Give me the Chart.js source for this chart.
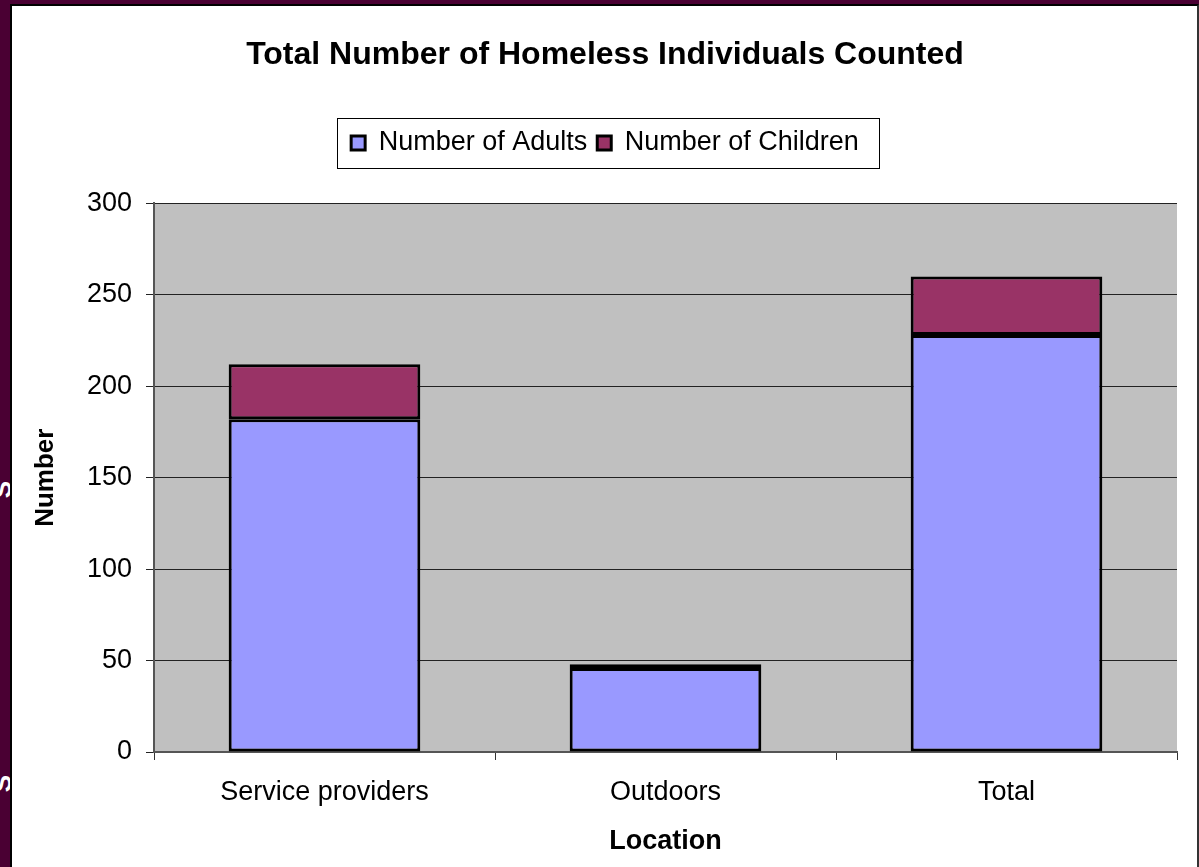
<!DOCTYPE html>
<html>
<head>
<meta charset="utf-8">
<script src="https://cdn.jsdelivr.net/npm/chart.js@4.4.1/dist/chart.umd.min.js"></script>
<style>
  html, body { margin: 0; padding: 0; background: #4a0033; overflow: hidden; }
  #frame {
    position: absolute; left: 10px; top: 4px; width: 1185px; height: 863px;
    background: #fff; border-left: 2px solid #000; border-top: 2px solid #000; border-right: 2px solid #333;
  }
  #wrap { position: absolute; left: 0; top: 0; width: 1185px; height: 861px; }
  .edge { position: absolute; left: -6px; color: #fff; font: bold 26px "Liberation Sans", Arial, sans-serif; transform: rotate(-90deg); }
</style>
</head>
<body>
<div class="edge" style="top:474px;">S</div>
<div class="edge" style="top:768px;">S</div>
<div id="frame"><div id="wrap"><canvas id="homeless"></canvas></div></div>
<script>
const categories = ["Service providers", "Outdoors", "Total"];
const adults = [182, 46, 228];
const children = [30, 2, 32];
const yTicks = [0, 50, 100, 150, 200, 250, 300];

const FONT = "'Liberation Sans', Arial, sans-serif";

// legend box gets a fixed height so the plot starts where the original does
const legendSize = {
  id: "legendSize",
  afterInit(chart) {
    const lg = chart.legend;
    const fit = lg.fit;
    lg.fit = function () {
      fit.call(this);
      this.height = 84;
    };
  }
};

const legendFrame = {
  id: "legendFrame",
  afterDraw(chart) {
    const boxes = chart.legend.legendHitBoxes;
    if (!boxes || !boxes.length) return;
    let l = Infinity, r = -Infinity, t = Infinity, b = -Infinity;
    boxes.forEach(function (h) {
      l = Math.min(l, h.left); r = Math.max(r, h.left + h.width);
      t = Math.min(t, h.top); b = Math.max(b, h.top + h.height);
    });
    const cy = (t + b) / 2;
    const ctx = chart.ctx;
    ctx.save();
    ctx.strokeStyle = "#000";
    ctx.lineWidth = 1;
    ctx.strokeRect(Math.round(l - 14) + 0.5, Math.round(cy - 25) + 0.5, Math.round(r - l + 34), 50);
    ctx.restore();
  }
};

const plotBg = {
  id: "plotBg",
  beforeDraw(chart) {
    const a = chart.chartArea;
    const ctx = chart.ctx;
    ctx.save();
    ctx.fillStyle = "#c0c0c0";
    ctx.fillRect(a.left, a.top, a.right - a.left, a.bottom - a.top);
    ctx.restore();
  }
};

function init() {
  const ctx = document.getElementById("homeless");
  new Chart(ctx, {
    type: "bar",
    data: {
      labels: categories,
      datasets: [
        {
          label: "Number of Adults",
          data: adults,
          backgroundColor: "#9999ff",
          borderColor: "#000",
          borderWidth: 3,
          borderSkipped: false,
          barPercentage: 0.562,
          categoryPercentage: 1,
        },
        {
          label: "Number of Children",
          data: children,
          backgroundColor: "#993366",
          borderColor: "#000",
          borderWidth: 3,
          borderSkipped: false,
          barPercentage: 0.562,
          categoryPercentage: 1,
        },
      ],
    },
    options: {
      responsive: true,
      maintainAspectRatio: false,
      animation: false,
      layout: { padding: { left: 21, right: 20, top: 0, bottom: 0 } },
      plugins: {
        title: {
          display: true,
          text: "Total Number of Homeless Individuals Counted",
          color: "#000",
          font: { family: FONT, size: 32, weight: "bold" },
          padding: { top: 30, bottom: 45 },
        },
        legend: {
          display: true,
          labels: {
            color: "#000",
            font: { family: FONT, size: 27 },
            boxWidth: 14,
            boxHeight: 14,
            padding: 10,
          },
        },
        tooltip: { enabled: false },
      },
      scales: {
        x: {
          stacked: true,
          afterFit: function (axis) { axis.height = 115; },
          grid: { drawOnChartArea: false, drawTicks: true, tickLength: 8, color: "#333", offset: true },
          border: { color: "#555", width: 2 },
          ticks: { color: "#000", font: { family: FONT, size: 27 }, padding: 16 },
          title: {
            display: true, text: "Location", color: "#000",
            font: { family: FONT, size: 27, weight: "bold" },
            padding: { bottom: 9 },
          },
        },
        y: {
          stacked: true,
          min: 0,
          max: 300,
          afterFit: function (axis) { axis.width = 121; },
          afterBuildTicks: function (axis) { axis.ticks = yTicks.map(function (v) { return { value: v }; }); },
          grid: { color: "#222", lineWidth: 1, tickLength: 8 },
          border: { color: "#555", width: 2 },
          ticks: { color: "#000", font: { family: FONT, size: 27 }, padding: 14 },
          title: {
            display: true, text: "Number", color: "#000",
            font: { family: FONT, size: 26, weight: "bold" },
            padding: { top: -3 },
          },
        },
      },
    },
    plugins: [legendSize, plotBg, legendFrame],
  });
}

window.onload = init;
</script>
</body>
</html>
